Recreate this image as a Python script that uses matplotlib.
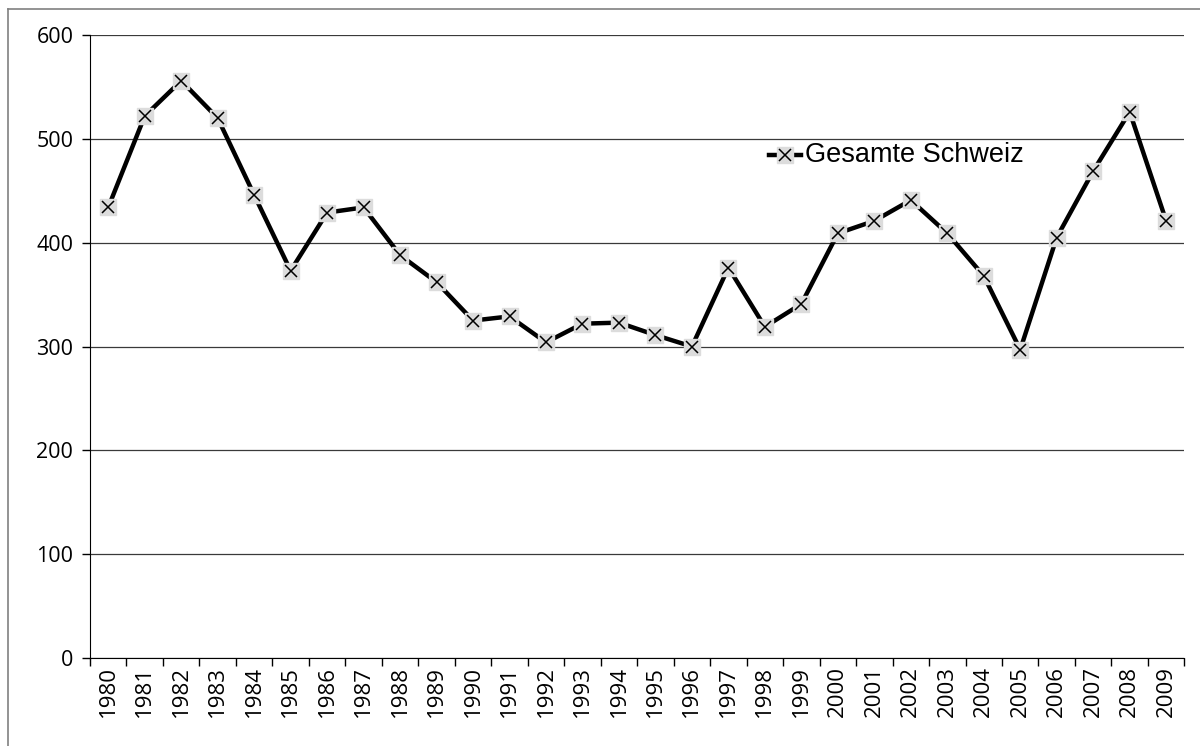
import matplotlib
matplotlib.use('Agg')
import matplotlib.pyplot as plt
from matplotlib.lines import Line2D

years = list(range(1980, 2010))
values = [434, 522, 556, 520, 446, 373, 429, 434, 388, 362,
          325, 329, 304, 322, 323, 311, 300, 376, 319, 341,
          409, 421, 441, 409, 368, 297, 405, 469, 526, 421]
yticks = [0, 100, 200, 300, 400, 500, 600]
series_name = 'Gesamte Schweiz'

fig = plt.figure(figsize=(12, 7.46), dpi=100)
ax = fig.add_axes([0.075, 0.118, 0.912, 0.835])

# outer frame (only left and top visible)
fig.add_artist(Line2D([8 / 1200, 8 / 1200], [0, 1 - 9 / 746], color='#808080', lw=1.2))
fig.add_artist(Line2D([8 / 1200, 1], [1 - 9 / 746, 1 - 9 / 746], color='#808080', lw=1.2))

x = list(range(len(years)))
ax.plot(x, values, color='black', lw=3.2, zorder=3)
ax.plot(x, values, ls='none', marker='s', ms=11, mfc='#dcdcdc', mec='#dcdcdc', zorder=4)
ax.plot(x, values, ls='none', marker='x', ms=9, mew=1.1, color='black', zorder=5)

ax.set_xlim(-0.5, len(years) - 0.5)
ax.set_ylim(0, 600)
ax.set_yticks(yticks)
ax.set_yticklabels([str(v) for v in yticks], fontsize=15.5, family='Open Sans')
ax.yaxis.grid(True, color='#3a3a3a', lw=0.9)
ax.set_axisbelow(True)

ax.set_xticks(x)
ax.set_xticklabels([str(y) for y in years], rotation=90, fontsize=16, family='Open Sans')
ax.tick_params(axis='x', length=0, pad=6)
ax.set_xticks([i - 0.5 for i in range(len(years) + 1)], minor=True)
ax.tick_params(axis='x', which='minor', length=6, width=1)
ax.tick_params(axis='y', length=6, width=1, direction='out', pad=6)

for s in ['top', 'right']:
    ax.spines[s].set_visible(False)
ax.spines['left'].set_color('black')
ax.spines['bottom'].set_color('black')

# legend
ly = 0.808
ax.add_artist(Line2D([0.62, 0.65], [ly, ly], transform=ax.transAxes, color='black', lw=3.2))
ax.plot([0.635], [ly], transform=ax.transAxes, marker='s', ms=11, mfc='#dcdcdc', mec='#dcdcdc', ls='none')
ax.plot([0.635], [ly], transform=ax.transAxes, marker='x', ms=9, mew=1.1, color='black', ls='none')
ax.text(0.653, ly, series_name, transform=ax.transAxes, fontsize=19.5,
        family='Liberation Sans', va='center', ha='left')

fig.savefig('out.png', dpi=100)
